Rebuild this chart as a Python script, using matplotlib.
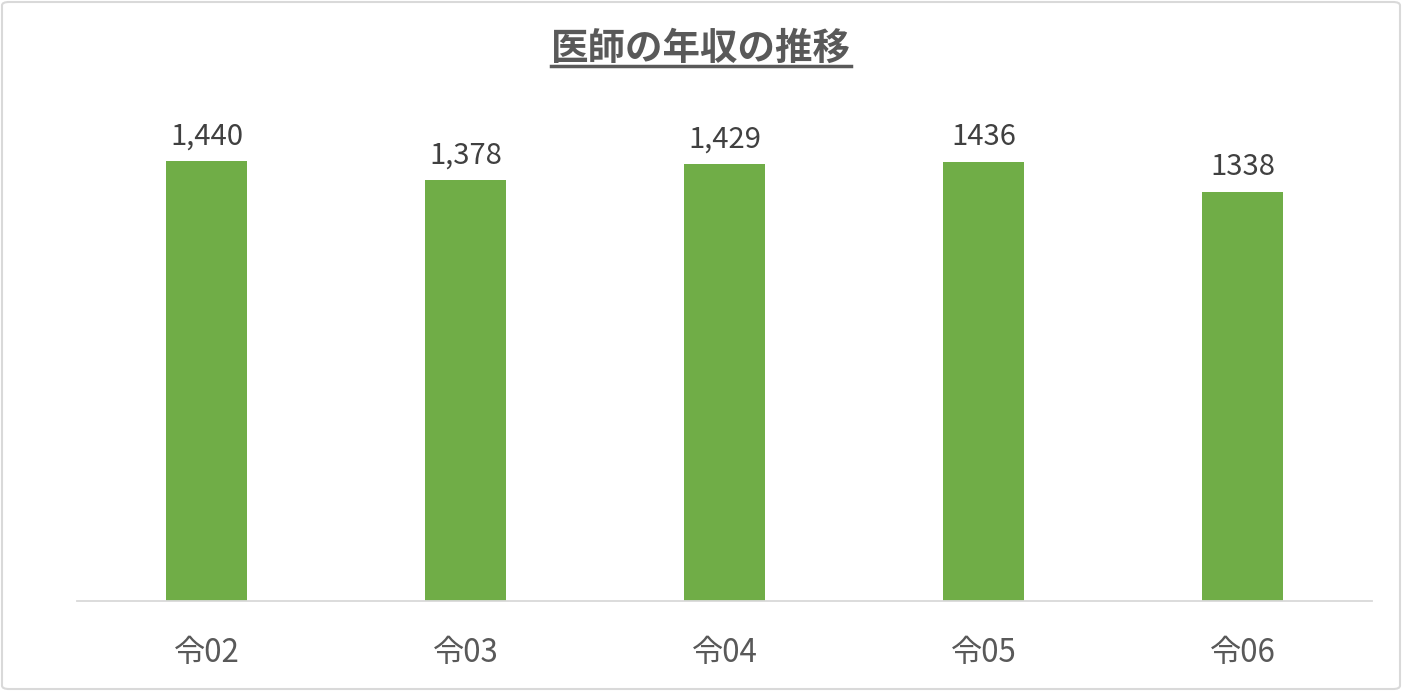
import matplotlib.pyplot as plt
from matplotlib.patches import FancyBboxPatch

plt.rcParams['font.family'] = ['Noto Sans CJK JP', 'DejaVu Sans']

# data
categories = ['令02', '令03', '令04', '令05', '令06']
values = [1440, 1378, 1429, 1436, 1338]
labels = ['1,440', '1,378', '1,429', '1436', '1338']

fig = plt.figure(figsize=(14.02, 6.91), dpi=100)
W, H = 1402, 691

# axes from x=77, baseline at y=601, top 112 (=1600)
ax = fig.add_axes([77 / W, (H - 601) / H, 1295 / W, 489 / H])

x = range(len(categories))
ax.bar(x, values, width=0.31, color='#70ad47', zorder=2)
for i, (v, lab) in enumerate(zip(values, labels)):
    ax.annotate(lab, (i, v), xytext=(0, 7), textcoords='offset points',
                ha='center', va='bottom', fontsize=21, color='#404040')

ax.set_xlim(-0.5, len(categories) - 0.5)
ax.set_ylim(0, 1600)
ax.set_xticks(list(x))
ax.set_xticklabels(categories, fontsize=22.5, color='#595959')
ax.tick_params(axis='x', length=0, pad=26)
ax.set_yticks([])
for s in ['top', 'right', 'left']:
    ax.spines[s].set_visible(False)
ax.spines['bottom'].set_color('#d9d9d9')
ax.spines['bottom'].set_linewidth(1.3)

# title
t = fig.text(0.5, 1 - 48 / H, '医師の年収の推移', ha='center', va='center',
             fontsize=27, fontweight='bold', color='#595959')
fig.canvas.draw()
bb = t.get_window_extent()
fig.add_artist(plt.Line2D([bb.x0 / W, bb.x1 / W], [(bb.y0 + 2) / H] * 2,
                          color='#595959', lw=2.5, transform=fig.transFigure))

# border
fig.add_artist(FancyBboxPatch((2 / W, 2 / H), 1 - 4 / W, 1 - 4 / H,
                              boxstyle='round,pad=0,rounding_size=0.005',
                              transform=fig.transFigure, fill=False,
                              edgecolor='#d9d9d9', lw=1.5))

fig.savefig('out.png', dpi=100)
